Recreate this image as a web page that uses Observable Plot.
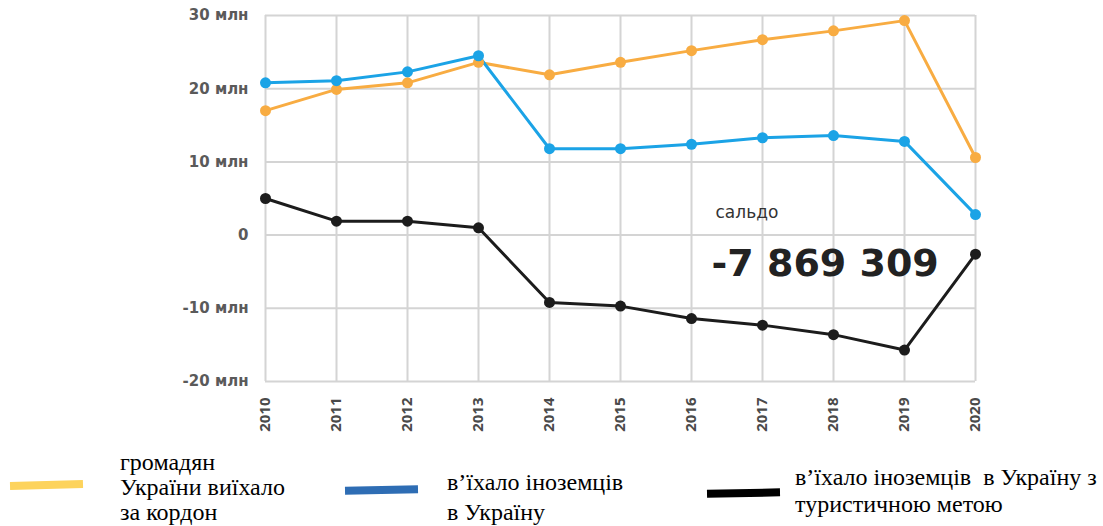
<!DOCTYPE html>
<html>
<head>
<meta charset="utf-8">
<script src="https://cdn.jsdelivr.net/npm/d3@7"></script>
<script src="https://cdn.jsdelivr.net/npm/@observablehq/plot@0.6"></script>
<style>
  html, body { margin: 0; padding: 0; background: #fff; }
  #wrap { width: 1103px; }
  #legend { position: relative; width: 1103px; height: 86px; font-family: "Liberation Serif", "Times New Roman", serif; font-size: 24px; color: #000; }
  .sw { position: absolute; height: 8px; width: 73px; }
  .lt { position: absolute; white-space: pre; }
</style>
</head>
<body>
<div id="wrap">
  <div id="chart"></div>
  <div id="legend"></div>
</div>
<script>
const years = ["2010","2011","2012","2013","2014","2015","2016","2017","2018","2019","2020"];
const citizensOut = [17.0, 19.9, 20.8, 23.6, 21.9, 23.6, 25.2, 26.7, 27.9, 29.3, 10.6];
const foreignersIn = [20.8, 21.1, 22.3, 24.5, 11.8, 11.8, 12.4, 13.3, 13.6, 12.8, 2.8];
const tourism = [5.0, 1.9, 1.9, 1.0, -9.2, -9.7, -11.4, -12.3, -13.6, -15.7, -2.6];
const yTicks = [-20, -10, 0, 10, 20, 30];
const seriesNames = ["громадян України виїхало за кордон", "в’їхало іноземців в Україну", "в’їхало іноземців  в Україну з туристичною метою"];
const lineColors = ["#f8ac42", "#1ba3e6", "#1c1c1c"];
const legendColors = ["#fdd35c", "#2e6db4", "#000000"];
const saldoLabel = "сальдо";
const saldoValue = "-7 869 309";

const rows = [];
[citizensOut, foreignersIn, tourism].forEach((arr, i) => {
  arr.forEach((v, j) => rows.push({series: seriesNames[i], year: years[j], value: v}));
});

const chart = Plot.plot({
  width: 1103,
  height: 440,
  marginLeft: 265,
  marginRight: 128,
  marginTop: 15,
  marginBottom: 59,
  style: { fontFamily: "'Open Sans', sans-serif", background: "#fff" },
  x: { type: "point", domain: years, padding: 0, label: null },
  y: { domain: [-20, 30], label: null },
  color: { domain: seriesNames, range: lineColors },
  marks: [
    Plot.gridX(years, { stroke: "#d4d4d4", strokeWidth: 2, strokeOpacity: 1 }),
    Plot.gridY(yTicks, { stroke: "#d4d4d4", strokeWidth: 2, strokeOpacity: 1 }),
    Plot.axisX({ tickRotate: -90, tickSize: 0, tickPadding: 16, fontSize: 15, fontWeight: 700, color: "#4a4a4a", label: null }),
    Plot.axisY(yTicks, { tickSize: 0, tickPadding: 17, fontSize: 15, fontWeight: 700, fontFamily: "'DejaVu Sans', sans-serif", color: "#5a5a5a", label: null,
      tickFormat: d => d === 0 ? "0" : `${d} млн` }),
    Plot.line(rows, { x: "year", y: "value", stroke: "series", strokeWidth: 3 }),
    Plot.dot(rows, { x: "year", y: "value", fill: "series", r: 5.5 }),
    Plot.text([{year: "2016", value: 3.1}], { x: "year", y: "value", text: () => saldoLabel, textAnchor: "start", dx: 24, fontSize: 17, fontFamily: "'DejaVu Sans', sans-serif", fill: "#333" }),
    Plot.text([{year: "2016", value: -3.9}], { x: "year", y: "value", text: () => saldoValue, textAnchor: "start", dx: 20, fontSize: 38, fontWeight: 700, fontFamily: "'DejaVu Sans', sans-serif", fill: "#222" })
  ]
});
document.getElementById("chart").appendChild(chart);

// legend
const legend = document.getElementById("legend");
const legendItems = [
  { sw: { left: 10, top: 41, rot: -1.5 }, text: ["громадян", "України виїхало", "за кордон"], tl: 120, tt: 10, lh: 25 },
  { sw: { left: 345, top: 46, rot: -1 }, text: ["в’їхало іноземців", "в Україну"], tl: 447, tt: 27, lh: 30 },
  { sw: { left: 707, top: 49, rot: -1 }, text: ["в’їхало іноземців  в Україну з", "туристичною метою"], tl: 795, tt: 24, lh: 27 }
];
legendItems.forEach((it, i) => {
  const s = document.createElement("div");
  s.className = "sw";
  s.style.left = it.sw.left + "px";
  s.style.top = it.sw.top + "px";
  s.style.background = legendColors[i];
  s.style.transform = `rotate(${it.sw.rot}deg)`;
  legend.appendChild(s);
  const t = document.createElement("div");
  t.className = "lt";
  t.style.left = it.tl + "px";
  t.style.top = it.tt + "px";
  t.style.lineHeight = it.lh + "px";
  t.textContent = it.text.join("\n");
  legend.appendChild(t);
});
</script>
</body>
</html>
